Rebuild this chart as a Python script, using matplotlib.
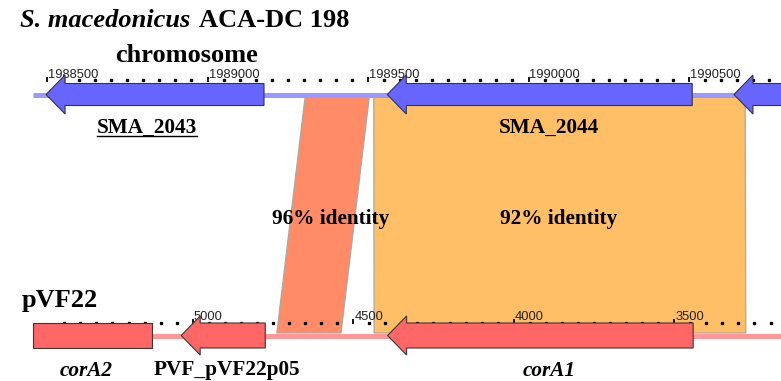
import matplotlib
matplotlib.use("Agg")
import matplotlib.pyplot as plt
from matplotlib.patches import Polygon

# S. macedonicus ACA-DC 198 chromosome, genes on the reverse strand
chr_names = ["SMA_2043", "SMA_2044", ""]
chr_left = [1988497, 1989560, 1990640]
chr_right = [1989176, 1990510, 1990950]
chr_label_x = [1988811, 1990065, None]

# plasmid pVF22 (coordinates run from high to low, left to right)
pl_names = ["corA2", "PVF_pVF22p05", "corA1"]
pl_left = [5498, 5036, 4393]
pl_right = [5127, 4774, 3441]
pl_arrow = [False, True, True]
pl_italic = [True, False, True]
pl_label_x = [5333, 4893, 3888]

# blastn hits between the two regions
hit_chr_from = [1989304, 1989518]
hit_chr_to = [1989504, 1990675]
hit_pl_from = [4738, 4435]
hit_pl_to = [4538, 3277]
hit_identity = [96, 92]
hit_label_x = [1989383, 1990095]
hit_colors = ["#FF8C66", "#FFBF66"]

chr_ticks = list(range(1988500, 1990751, 50))
pl_ticks = list(range(5400, 3199, -50))

PX_PER_BP = 0.321
X0 = 1988500 - 47 / PX_PER_BP
PL_OFFSET = 1993954  # plasmid bp -> chromosome axis units (reversed)

Y_CHR = 94.5
Y_PL = 335.5
HEAD_BP = 19 / PX_PER_BP

serif = "Liberation Serif"
sans = "Liberation Sans"
LABEL_SIZE = 15.3


def pl_x(bp):
    return PL_OFFSET - bp


def px(x_pixels):
    return X0 + x_pixels / PX_PER_BP


def gene_shape(x0, x1, yc, body, head, arrow=True):
    # arrow pointing left (reverse strand)
    if not arrow:
        return [(x0, yc - body), (x1, yc - body), (x1, yc + body), (x0, yc + body)]
    hb = x0 + HEAD_BP
    return [(x0, yc), (hb, yc - head), (hb, yc - body), (x1, yc - body),
            (x1, yc + body), (hb, yc + body), (hb, yc + head)]


fig = plt.figure(figsize=(7.81, 3.81), dpi=100)
ax = fig.add_axes([0, 0, 1, 1])
ax.set_xlim(X0, px(781))
ax.set_ylim(381, 0)
ax.axis("off")

# backbone lines
ax.plot([px(33), px(781)], [Y_CHR, Y_CHR], color="#9999FF", lw=3.6,
        solid_capstyle="butt", zorder=2)
ax.plot([px(33), px(781)], [Y_PL, Y_PL], color="#FF9999", lw=3.6,
        solid_capstyle="butt", zorder=2)

# homology ribbons
for a, b, c, d, col in zip(hit_chr_from, hit_chr_to, hit_pl_from, hit_pl_to, hit_colors):
    poly = Polygon([(a, Y_CHR + 2.5), (b, Y_CHR + 2.5), (pl_x(d), Y_PL - 2.5),
                    (pl_x(c), Y_PL - 2.5)], closed=True, facecolor=col,
                   edgecolor="#A8A8A8", lw=0.9, zorder=1)
    ax.add_patch(poly)

for x, ident in zip(hit_label_x, hit_identity):
    ax.text(x, 224.3, f"{ident}% identity", ha="center", va="baseline",
            fontsize=LABEL_SIZE, fontweight="bold", family=serif, zorder=5)

# scale ticks
chr_minor = [t for t in chr_ticks if t % 500]
chr_major = [t for t in chr_ticks if t % 500 == 0]
ax.plot(chr_minor, [80] * len(chr_minor), ls="none", marker="s", ms=1.4,
        color="black", zorder=1.5)
ax.vlines(chr_major, 77, 81.5, color="black", lw=1.3, zorder=1.5)
for t in chr_major:
    ax.text(t + 1 / PX_PER_BP, 77.5, str(t), ha="left", va="baseline",
            fontsize=9.3, family=sans, color="#222222")

pl_minor = [pl_x(t) for t in pl_ticks if t % 500]
pl_major = [t for t in pl_ticks if t % 500 == 0]
ax.plot(pl_minor, [322.5] * len(pl_minor), ls="none", marker="s", ms=1.4,
        color="black", zorder=1.5)
ax.vlines([pl_x(t) for t in pl_major], 319, 323.5, color="black", lw=1.3, zorder=1.5)
for t in pl_major:
    ax.text(pl_x(t) + 1 / PX_PER_BP, 319.5, str(t), ha="left", va="baseline",
            fontsize=9.3, family=sans, color="#222222")

# genes
for l, r in zip(chr_left, chr_right):
    ax.add_patch(Polygon(gene_shape(l, r, Y_CHR, 11, 19.5), closed=True,
                         facecolor="#6666FF", edgecolor="#333344", lw=0.8, zorder=3))
for l, r, arr in zip(pl_left, pl_right, pl_arrow):
    ax.add_patch(Polygon(gene_shape(pl_x(l), pl_x(r), Y_PL, 12.5, 19.5, arr),
                         closed=True, facecolor="#FF6666", edgecolor="#443333",
                         lw=0.8, zorder=3))

# gene labels
for name, x in zip(chr_names, chr_label_x):
    if not name:
        continue
    ax.text(x, 133.3, name, ha="center", va="baseline", fontsize=LABEL_SIZE,
            fontweight="bold", family=serif)
ax.plot([px(97), px(197)], [135.6, 135.6], color="black", lw=1.0)

for name, x, it in zip(pl_names, pl_label_x, pl_italic):
    ax.text(pl_x(x), 375.5, name, ha="center", va="baseline", fontsize=LABEL_SIZE,
            fontweight="bold", family=serif, style="italic" if it else "normal")

# track titles
ax.text(px(20), 27.3, "S. macedonicus", ha="left", va="baseline", fontsize=19,
        fontweight="bold", style="italic", family=serif)
ax.text(px(199), 27.3, "ACA-DC 198", ha="left", va="baseline", fontsize=19,
        fontweight="bold", family=serif)
ax.text(px(186.5), 61.7, "chromosome", ha="center", va="baseline", fontsize=19,
        fontweight="bold", family=serif)
ax.text(px(22), 307, "pVF22", ha="left", va="baseline", fontsize=19,
        fontweight="bold", family=serif)

fig.savefig("out.png", dpi=100)
